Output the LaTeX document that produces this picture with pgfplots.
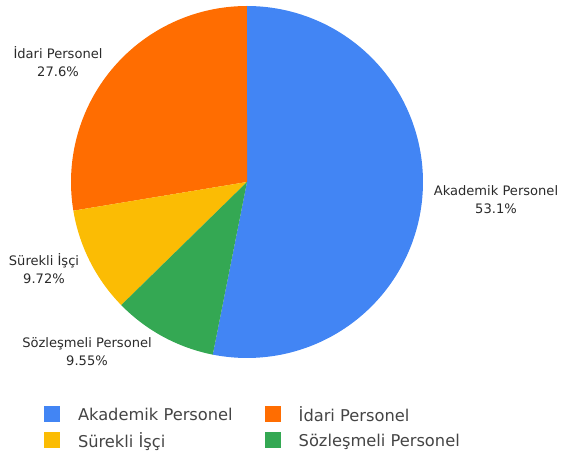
\documentclass[border=0pt]{standalone}
\usepackage{pgfplots}
\pgfplotsset{compat=1.18}
\usepackage{fontspec}
\setmainfont{DejaVu Sans}
\definecolor{cAk}{HTML}{4285F4}
\definecolor{cId}{HTML}{FF6D01}
\definecolor{cSu}{HTML}{FBBC04}
\definecolor{cSo}{HTML}{34A853}
\definecolor{labtxt}{HTML}{2A2A2A}
\definecolor{legtxt}{HTML}{444444}
% shares (%), clockwise from 12 o'clock: Akademik, Sozlesmeli, Surekli, Idari
\def\pAk{53.1}
\def\pSo{9.55}
\def\pSu{9.72}
\def\pId{27.6}
\begin{document}
\begin{tikzpicture}
\pgfmathsetmacro{\tot}{\pAk+\pSo+\pSu+\pId}
\pgfmathsetmacro{\aA}{90}
\pgfmathsetmacro{\aB}{90-\pAk/\tot*360}
\pgfmathsetmacro{\aC}{\aB-\pSo/\tot*360}
\pgfmathsetmacro{\aD}{\aC-\pSu/\tot*360}
\pgfmathsetmacro{\aE}{-270}
\begin{axis}[
  x=0.75pt, y=0.75pt, scale only axis,
  xmin=0, xmax=565, ymin=0, ymax=453,
  hide axis, clip=false,
  legend columns=2,
  legend cell align=left,
  legend style={at={(axis cs:44,47)}, anchor=north west, draw=none, fill=none,
    inner sep=0pt, outer sep=0pt,
    font=\fontsize{12.2}{14}\selectfont\color{legtxt},
    /tikz/every even column/.append style={column sep=24pt},
    row sep=7.5pt,
    nodes={inner sep=0pt, text depth=0pt, anchor=west},
  },
  legend image code/.code={\fill[#1] (0pt,-6pt) rectangle (12pt,6pt);},
]
\addplot[draw=none, fill=cAk, domain=\aA:\aB, samples=120, variable=\t]
  ({247+176*cos(\t)}, {271+176*sin(\t)}) -- (axis cs:247,271) -- cycle;
\addlegendentry{\hspace{13.5pt}Akademik Personel}
\addplot[draw=none, fill=cId, domain=\aD:\aE, samples=80, variable=\t]
  ({247+176*cos(\t)}, {271+176*sin(\t)}) -- (axis cs:247,271) -- cycle;
\addlegendentry{\hspace{13.5pt}İdari Personel}
\addplot[draw=none, fill=cSu, domain=\aC:\aD, samples=40, variable=\t]
  ({247+176*cos(\t)}, {271+176*sin(\t)}) -- (axis cs:247,271) -- cycle;
\addlegendentry{\hspace{13.5pt}Sürekli İşçi}
\addplot[draw=none, fill=cSo, domain=\aB:\aC, samples=40, variable=\t]
  ({247+176*cos(\t)}, {271+176*sin(\t)}) -- (axis cs:247,271) -- cycle;
\addlegendentry{\hspace{13.5pt}Sözleşmeli Personel}

\begin{scope}[every node/.style={align=center, text=labtxt, font=\fontsize{9.8}{13.5}\selectfont, inner sep=0pt}]
\node at (axis cs:496,253) {Akademik Personel\\53.1\%};
\node at (axis cs:58,391) {İdari Personel\\27.6\%};
\node at (axis cs:44,184) {Sürekli İşçi\\9.72\%};
\node at (axis cs:87,101) {Sözleşmeli Personel\\9.55\%};
\end{scope}
\path (axis cs:0,0) (axis cs:565,453);
\end{axis}
\end{tikzpicture}
\end{document}
